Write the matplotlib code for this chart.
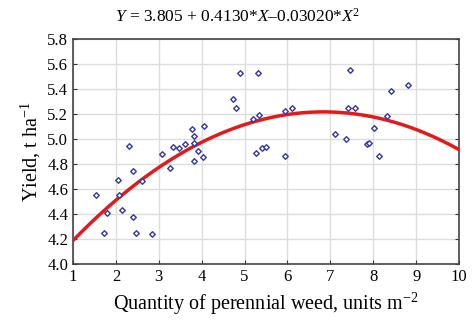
import numpy as np
import matplotlib
matplotlib.use("Agg")
import matplotlib.pyplot as plt

weed_x = [1.53, 1.72, 1.79, 2.06, 2.08, 2.15, 2.31, 2.41, 2.41, 2.46, 2.61, 2.83,
          3.08, 3.25, 3.34, 3.46, 3.62, 3.77, 3.81, 3.81, 3.82, 3.91, 4.04, 4.06,
          4.72, 4.80, 4.90, 5.20, 5.26, 5.31, 5.34, 5.40, 5.51, 5.94, 5.94, 6.11,
          7.12, 7.36, 7.40, 7.46, 7.58, 7.85, 7.91, 8.01, 8.13, 8.33, 8.41, 8.82]
yield_y = [4.555, 4.25, 4.41, 4.672, 4.555, 4.43, 4.944, 4.74, 4.376, 4.25, 4.66, 4.243,
           4.877, 4.766, 4.936, 4.93, 4.957, 5.083, 5.02, 4.97, 4.826, 4.90, 4.856, 5.10,
           5.32, 5.25, 5.528, 5.16, 4.886, 5.528, 5.19, 4.93, 4.936, 5.22, 4.864, 5.245,
           5.04, 4.998, 5.25, 5.55, 5.245, 4.96, 4.966, 5.085, 4.864, 5.18, 5.38, 5.43]

# fitted quadratic coefficients
coef = [3.805, 0.4130, -0.03020]

x_ticks = [1, 2, 3, 4, 5, 6, 7, 8, 9, 10]
y_ticks = [4.0, 4.2, 4.4, 4.6, 4.8, 5.0, 5.2, 5.4, 5.6, 5.8]

plt.rcParams["font.family"] = ["Liberation Serif", "DejaVu Serif"]
plt.rcParams["mathtext.fontset"] = "custom"
plt.rcParams["mathtext.rm"] = "Liberation Serif"
plt.rcParams["mathtext.it"] = "Liberation Serif:italic"

fig = plt.figure(figsize=(4.72, 3.23), dpi=100)
ax = fig.add_axes([0.1547, 0.1827, 0.8178, 0.6966])

xs = np.linspace(1, 10, 200)
ax.plot(xs, coef[0] + coef[1] * xs + coef[2] * xs ** 2, color="#e31a1c", lw=2.5, zorder=3)
ax.scatter(weed_x, yield_y, marker="D", s=8, facecolors="white",
           edgecolors="#3535a5", linewidths=1.0, zorder=4)

ax.set_xlim(1, 10)
ax.set_ylim(4.0, 5.8)
ax.set_xticks(x_ticks)
ax.set_yticks(y_ticks)
ax.set_yticklabels([f"{v:.1f}" for v in y_ticks])
ax.grid(True, color="#dcdcdc", lw=1)
ax.set_axisbelow(True)
ax.tick_params(direction="in", length=3, labelsize=12, right=True, top=False,
               color="#333333")
for s in ax.spines.values():
    s.set_color("#444444")
    s.set_linewidth(1.2)

ax.set_xlabel("Quantity of perennial weed, units m$^{-2}$", fontsize=14.5, labelpad=4)
ax.set_ylabel("Yield, t ha$^{-1}$", fontsize=14.5, labelpad=3)
fig.text(0.503, 0.947, "$Y$ = 3.805 + 0.4130*$X$\u20130.03020*$X$$^{2}$",
         ha="center", va="center", fontsize=12.5)

plt.savefig("out.png")
